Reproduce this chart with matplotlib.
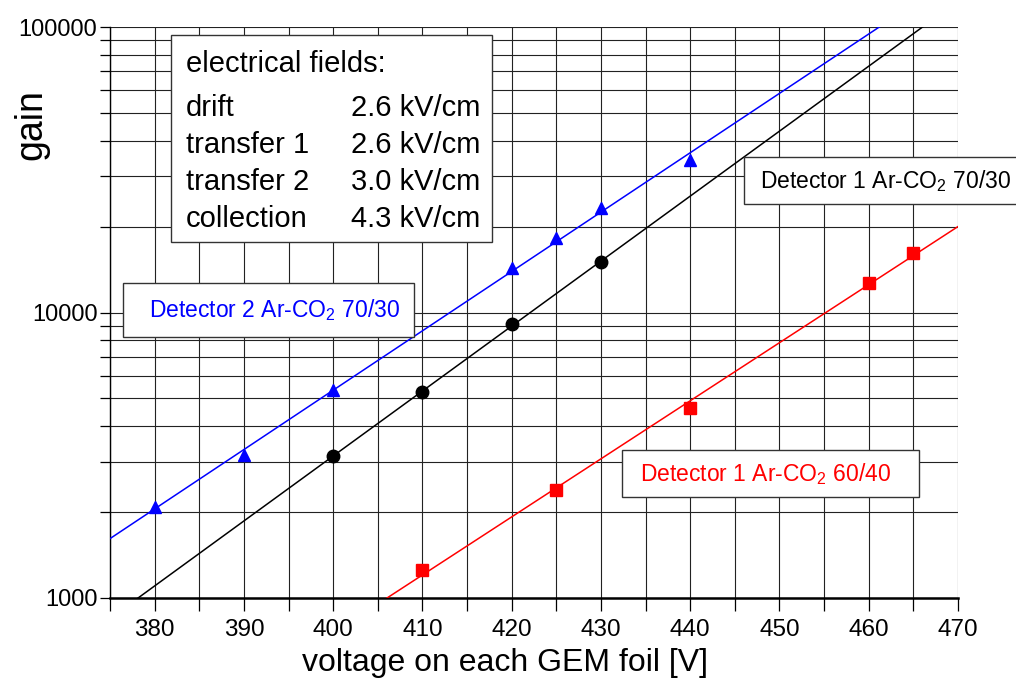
import numpy as np
import matplotlib
matplotlib.use("Agg")
import matplotlib.pyplot as plt
from matplotlib.patches import Rectangle
from matplotlib.ticker import MultipleLocator, LogLocator, FuncFormatter, NullFormatter

plt.rcParams["font.family"] = ["Liberation Sans", "DejaVu Sans"]
plt.rcParams["mathtext.default"] = "regular"

# gain vs. GEM voltage
v_det2_7030 = [380, 390, 400, 420, 425, 430, 440]
g_det2_7030 = [2080, 3170, 5350, 14300, 18200, 23200, 34200]

v_det1_7030 = [400, 410, 420, 430]
g_det1_7030 = [3140, 5270, 9120, 15000]

v_det1_6040 = [410, 425, 440, 460, 465]
g_det1_6040 = [1250, 2390, 4630, 12700, 16200]

field_names = ["drift", "transfer 1", "transfer 2", "collection"]
field_values = ["2.6 kV/cm", "2.6 kV/cm", "3.0 kV/cm", "4.3 kV/cm"]

fig = plt.figure(figsize=(10.16, 6.84), dpi=100)
ax = fig.add_axes([110 / 1016, 1 - 598 / 684, 848 / 1016, 571 / 684])

vfit = np.linspace(370, 475, 200)
series = [
    (v_det2_7030, g_det2_7030, "blue", "^"),
    (v_det1_7030, g_det1_7030, "black", "o"),
    (v_det1_6040, g_det1_6040, "red", "s"),
]
for v, g, col, mk in series:
    k, b = np.polyfit(v, np.log10(g), 1)
    ax.plot(vfit, 10 ** (k * vfit + b), color=col, lw=1.1, zorder=3)
    ax.plot(v, g, linestyle="none", marker=mk, color=col, ms=9, mec=col, zorder=4)

ax.set_yscale("log")
ax.set_xlim(375, 470)
ax.set_ylim(1000, 100000)

ax.xaxis.set_major_locator(MultipleLocator(10))
ax.xaxis.set_minor_locator(MultipleLocator(5))
ax.yaxis.set_major_locator(LogLocator(base=10, numticks=5))
ax.yaxis.set_minor_locator(LogLocator(base=10, subs=np.arange(2, 10), numticks=20))
ax.yaxis.set_major_formatter(FuncFormatter(lambda y, _: f"{int(round(y))}"))
ax.yaxis.set_minor_formatter(NullFormatter())

ax.grid(which="both", color="#222222", lw=0.8, zorder=0)
ax.set_axisbelow(True)

ax.spines["top"].set_visible(False)
ax.spines["right"].set_visible(False)
ax.spines["left"].set_linewidth(1.0)
ax.spines["bottom"].set_linewidth(1.8)

ax.tick_params(axis="both", which="both", direction="out", color="black", width=0.9)
ax.tick_params(axis="x", which="both", length=9, labelsize=17.5, pad=6)
ax.tick_params(axis="y", which="both", length=7, labelsize=17, pad=2)

ax.set_xlabel("voltage on each GEM foil [V]", fontsize=23)
ax.xaxis.set_label_coords(0.466, -0.088)
ax.set_ylabel("gain", fontsize=27)
ax.yaxis.set_label_coords(-0.071, 0.83)

# electrical fields box
ax.add_patch(Rectangle((0.0719, 0.6235), 0.3786, 0.3625, transform=ax.transAxes,
                       facecolor="white", edgecolor="#333333", lw=1.0, zorder=5, clip_on=False))
ax.text(0.0896, 0.935, "electrical fields:", transform=ax.transAxes, fontsize=21,
        va="center", ha="left", zorder=6)
for i, (name, val) in enumerate(zip(field_names, field_values)):
    y = 0.858 - i * 0.0645
    ax.text(0.0896, y, name, transform=ax.transAxes, fontsize=21, va="center", ha="left", zorder=6)
    ax.text(0.437, y, val, transform=ax.transAxes, fontsize=21, va="center", ha="right", zorder=6)

# series labels
labels = [
    ((0.0153, 0.4571, 0.3432, 0.0946), (0.1946, 0.5044), "center",
     "Detector 2 Ar-CO$_2$ 70/30", "blue"),
    ((0.7476, 0.690, 0.40, 0.0823), (0.7665, 0.7303), "left",
     "Detector 1 Ar-CO$_2$ 70/30", "black"),
    ((0.6038, 0.1769, 0.3502, 0.0823), (0.7736, 0.2172), "center",
     "Detector 1 Ar-CO$_2$ 60/40", "red"),
]
for (x0, y0, w, h), (tx, ty), ha, txt, col in labels:
    ax.add_patch(Rectangle((x0, y0), w, h, transform=ax.transAxes, facecolor="white",
                           edgecolor="#333333", lw=1.0, zorder=5, clip_on=False))
    ax.text(tx, ty, txt, transform=ax.transAxes, fontsize=16.5, color=col,
            va="center", ha=ha, zorder=6)

fig.savefig("out.png", dpi=100)
